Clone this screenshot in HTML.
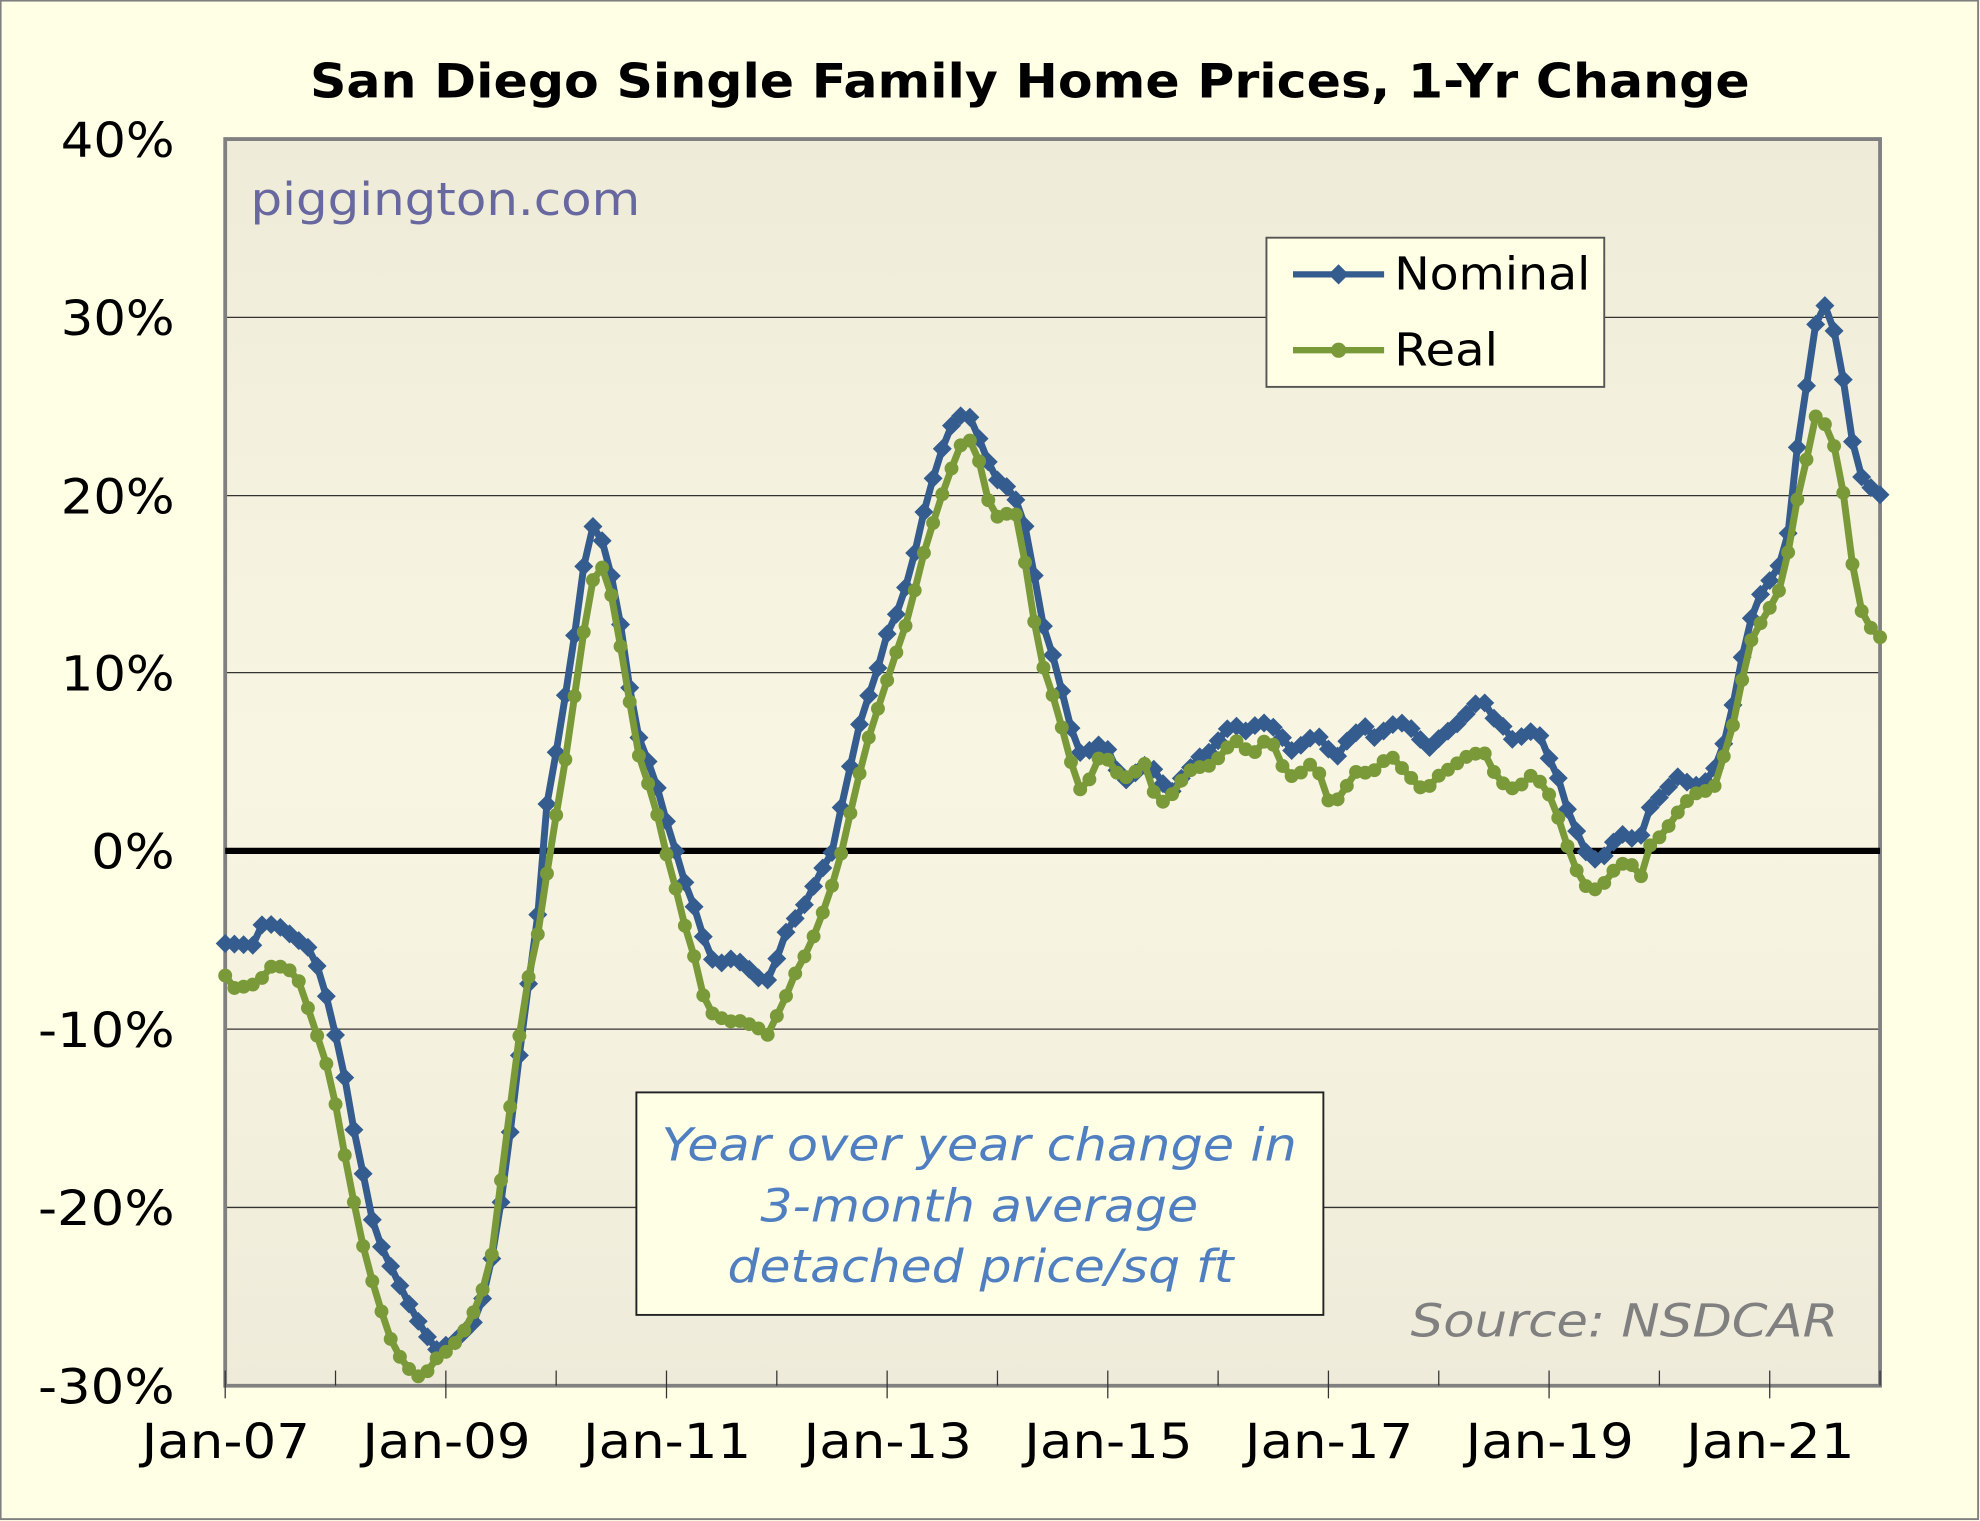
<!DOCTYPE html>
<html><head><meta charset="utf-8"><style>
html,body{margin:0;padding:0;background:#FFFFE6;}
svg{display:block;}
text{font-family:"DejaVu Sans","Liberation Sans",sans-serif;}
</style></head><body>
<svg id="s" width="1980" height="1521" viewBox="0 0 1565 1203" preserveAspectRatio="none" xmlns="http://www.w3.org/2000/svg">
<defs><linearGradient id="g" x1="0" y1="0" x2="0" y2="1"><stop offset="0" stop-color="#EFEBD9"/><stop offset="0.5" stop-color="#F8F6E2"/><stop offset="1" stop-color="#EFEBDA"/></linearGradient></defs>
<rect x="0.5" y="0.5" width="1563" height="1201" fill="#FFFFE6" stroke="#808080" stroke-width="1.5"/>
<rect x="178" y="110" width="1308" height="986" fill="url(#g)"/>
<g stroke="#333" stroke-width="1">
<line x1="178" x2="1486" y1="251" y2="251"/><line x1="178" x2="1486" y1="392" y2="392"/><line x1="178" x2="1486" y1="532" y2="532"/><line x1="178" x2="1486" y1="814" y2="814"/><line x1="178" x2="1486" y1="955" y2="955"/>
</g>
<path d="M178,1096V110H1486V1096Z" fill="none" stroke="#808080" stroke-width="3"/>
<line x1="178" x2="1486" y1="673" y2="673" stroke="#000" stroke-width="5"/>
<g id="ticks" stroke="#333" stroke-width="1"></g>
<g font-size="38" text-anchor="end" fill="#000" lengthAdjust="spacingAndGlyphs">
<text x="138" y="124" textLength="90" lengthAdjust="spacingAndGlyphs">40%</text><text x="138" y="265" textLength="90" lengthAdjust="spacingAndGlyphs">30%</text><text x="138" y="406" textLength="90" lengthAdjust="spacingAndGlyphs">20%</text><text x="138" y="546" textLength="90" lengthAdjust="spacingAndGlyphs">10%</text><text x="138" y="687" textLength="66" lengthAdjust="spacingAndGlyphs">0%</text><text x="138" y="828" textLength="108" lengthAdjust="spacingAndGlyphs">-10%</text><text x="138" y="969" textLength="108" lengthAdjust="spacingAndGlyphs">-20%</text><text x="138" y="1110" textLength="108" lengthAdjust="spacingAndGlyphs">-30%</text>
</g>
<g font-size="38" fill="#000" id="xl"></g>
<text x="245" y="77" font-size="37" font-weight="bold" textLength="1138" lengthAdjust="spacingAndGlyphs">San Diego Single Family Home Prices, 1-Yr Change</text>
<text x="198" y="170" font-size="36" fill="#6868A0" textLength="308" lengthAdjust="spacingAndGlyphs">piggington.com</text>
<text x="1115" y="1057" font-size="36" fill="#808080" font-style="italic" textLength="338" lengthAdjust="spacingAndGlyphs">Source: NSDCAR</text>
<g id="series"></g>
<rect x="1001" y="188" width="267" height="118" fill="#FFFFE6" stroke="#555" stroke-width="1.5"/>
<line x1="1022" x2="1094" y1="217" y2="217" stroke="#355C8F" stroke-width="5"/>
<path d="M1058,209l8,8l-8,8l-8,-8z" fill="#355C8F"/>
<line x1="1022" x2="1094" y1="277" y2="277" stroke="#7A9A3A" stroke-width="5"/>
<circle cx="1058" cy="277" r="6" fill="#7A9A3A"/>
<text x="1102" y="229" font-size="36" textLength="155" lengthAdjust="spacingAndGlyphs">Nominal</text>
<text x="1102" y="289" font-size="36" textLength="82" lengthAdjust="spacingAndGlyphs">Real</text>
<rect x="503" y="864" width="543" height="176" fill="#FFFFE6" stroke="#222" stroke-width="1.5"/>
<g font-size="36" font-style="italic" fill="#4F7FC0">
<text x="523" y="918" textLength="502" lengthAdjust="spacingAndGlyphs">Year over year change in</text><text x="601" y="966" textLength="346" lengthAdjust="spacingAndGlyphs">3-month average</text><text x="575" y="1014" textLength="400" lengthAdjust="spacingAndGlyphs">detached price/sq ft</text>
</g>
</svg>
<script>
var NS="http://www.w3.org/2000/svg";
function el(t,a,p){var e=document.createElementNS(NS,t);for(var k in a)e.setAttribute(k,a[k]);p.appendChild(e);return e;}
var tk=document.getElementById('ticks'),xl=document.getElementById('xl');
var labs=["Jan-07","Jan-09","Jan-11","Jan-13","Jan-15","Jan-17","Jan-19","Jan-21"];
for(var y=0;y<=15;y++){var x=178+y*12*(1308/180);var maj=y%2==0;
el('line',{x1:x,x2:x,y1:1084,y2:maj?1106:1096},tk);
if(maj){var t=el('text',{x:x-66,y:1153,textLength:133,lengthAdjust:'spacingAndGlyphs'},xl);t.textContent=labs[y/2];}}
var N=[178,-5.2,200,-5.3,208,-4.0,222,-4.3,245,-5.5,255,-7.2,262,-9.5,270,-11.6,277,-14.8,285,-17.3,292,-20.2,300,-22.0,320,-25.0,335,-27.0,345,-28.0,360,-27.5,378,-26.2,390,-22.5,398,-18.8,405,-14.8,413,-10.0,420,-6.3,428,-2.0,432,2.5,440,5.7,447,8.8,455,12.5,462,16.3,470,18.6,478,17.0,486,14.6,495,10.8,500,7.8,508,5.5,516,4.6,523,2.5,532,0.5,540,-1.5,546,-2.7,552,-3.7,560,-6.0,570,-6.3,580,-6.0,590,-6.5,605,-7.5,612,-6.5,620,-4.7,636,-3.0,650,-1.0,660,0.2,665,2.5,672,4.7,680,7.3,688,9.0,695,10.5,702,12.4,710,13.5,718,15.3,725,17.3,732,19.6,740,21.5,748,23.3,755,24.3,765,24.6,772,23.5,780,22.0,790,20.6,798,20.4,808,19.0,816,16.2,822,13.2,830,11.5,836,10.0,843,7.8,852,5.5,860,5.6,872,6.1,880,5.2,886,3.8,895,4.2,903,4.8,910,4.8,918,3.9,925,3.2,935,4.2,945,5.0,952,5.6,958,5.5,965,6.5,975,7.2,982,6.6,990,7.0,1000,7.2,1010,6.8,1020,5.6,1030,6.0,1040,6.6,1048,6.0,1055,5.0,1062,6.0,1070,6.5,1078,7.1,1085,6.3,1095,6.8,1105,7.3,1115,6.9,1122,6.3,1130,5.8,1140,6.5,1150,7.0,1158,7.6,1165,8.2,1172,8.5,1180,7.5,1188,7.0,1196,6.2,1205,6.5,1215,6.9,1222,5.5,1230,4.5,1238,2.5,1245,1.3,1255,-0.3,1265,-0.6,1280,1.0,1290,0.7,1298,0.9,1305,2.6,1315,3.2,1325,4.2,1335,3.8,1345,3.6,1355,4.6,1365,6.5,1372,9.0,1380,12.0,1388,14.0,1395,14.8,1402,15.5,1410,16.5,1415,18.5,1422,23.7,1430,27.0,1438,31.0,1446,30.3,1452,28.5,1460,25.2,1467,21.5,1475,20.6,1486,20.0];
var R=[178,-7.0,185,-7.7,195,-7.6,205,-7.4,212,-6.5,222,-6.5,232,-6.8,240,-7.8,245,-9.3,255,-11.2,262,-13.0,268,-15.3,275,-18.1,282,-20.5,290,-23.2,298,-25.0,305,-26.7,312,-28.0,320,-28.8,328,-29.5,335,-29.5,345,-28.5,355,-28.0,365,-27.2,375,-25.8,385,-24.0,392,-21.5,398,-17.0,405,-13.5,413,-9.0,420,-6.2,428,-3.8,434,-0.3,442,3.0,450,6.5,457,10.2,465,14.0,472,16.3,480,15.5,487,13.0,495,9.5,502,6.6,508,4.1,516,3.5,522,1.0,530,-1.0,538,-3.2,545,-5.3,552,-6.5,558,-9.0,566,-9.2,575,-9.6,583,-9.5,590,-9.7,598,-9.8,605,-10.6,612,-9.5,618,-8.8,626,-7.2,634,-6.2,640,-5.3,648,-4.0,655,-2.4,662,-1.2,668,1.0,675,2.9,682,5.2,690,7.2,698,8.8,705,10.5,712,11.8,720,13.6,727,16.0,735,17.8,742,19.5,750,21.0,757,22.6,765,23.2,772,22.5,778,20.5,785,18.7,795,18.9,802,19.2,808,17.2,815,14.0,822,10.8,829,9.5,835,8.0,843,6.0,850,4.0,857,3.0,863,4.5,870,5.4,878,5.0,886,4.0,895,4.3,905,4.9,912,3.3,920,2.7,928,3.3,936,4.2,945,4.8,952,4.6,960,5.0,967,5.5,975,6.3,983,5.8,990,5.4,1000,6.2,1008,5.9,1015,4.5,1023,4.1,1030,4.5,1038,5.0,1046,3.9,1052,2.3,1060,3.2,1068,4.0,1075,4.8,1082,4.1,1090,4.9,1100,5.3,1110,4.5,1118,3.9,1125,3.4,1133,3.8,1140,4.5,1148,4.6,1155,5.2,1165,5.4,1172,5.7,1180,4.5,1188,3.8,1195,3.5,1205,3.8,1212,4.4,1220,3.6,1228,2.8,1235,1.0,1243,-0.5,1250,-1.8,1258,-2.2,1265,-2.1,1272,-1.4,1280,-0.7,1290,-0.8,1298,-1.5,1305,0.5,1315,0.9,1322,1.8,1330,2.5,1338,3.2,1346,3.3,1355,3.6,1362,5.2,1372,7.6,1380,10.8,1387,12.5,1395,13.0,1402,14.2,1410,15.0,1417,18.7,1425,21.0,1435,24.4,1445,23.8,1452,22.2,1460,18.8,1467,14.3,1475,12.8,1486,12.0];
function interp(A,x){for(var i=0;i<A.length-2;i+=2){if(x<=A[i+2]){var t=(x-A[i])/(A[i+2]-A[i]);return A[i+1]+t*(A[i+3]-A[i+1]);}}return A[A.length-1];}
var sg=document.getElementById('series');
function draw(A,col,dia){var pts=[];for(var m=0;m<=180;m++){var x=178+m*1308/180;var v=interp(A,x);pts.push([x,673-v*14.086]);}
el('polyline',{points:pts.map(function(p){return p[0].toFixed(1)+','+p[1].toFixed(1)}).join(' '),fill:'none',stroke:col,'stroke-width':5.5,'stroke-linejoin':'round'},sg);
pts.forEach(function(p){if(dia)el('path',{d:'M'+p[0]+','+(p[1]-7.5)+'l7.5,7.5l-7.5,7.5l-7.5,-7.5z',fill:col},sg);else el('circle',{cx:p[0],cy:p[1],r:5.5,fill:col},sg);});}
draw(N,'#355C8F',true);draw(R,'#7A9A3A',false);
</script>
</body></html>
